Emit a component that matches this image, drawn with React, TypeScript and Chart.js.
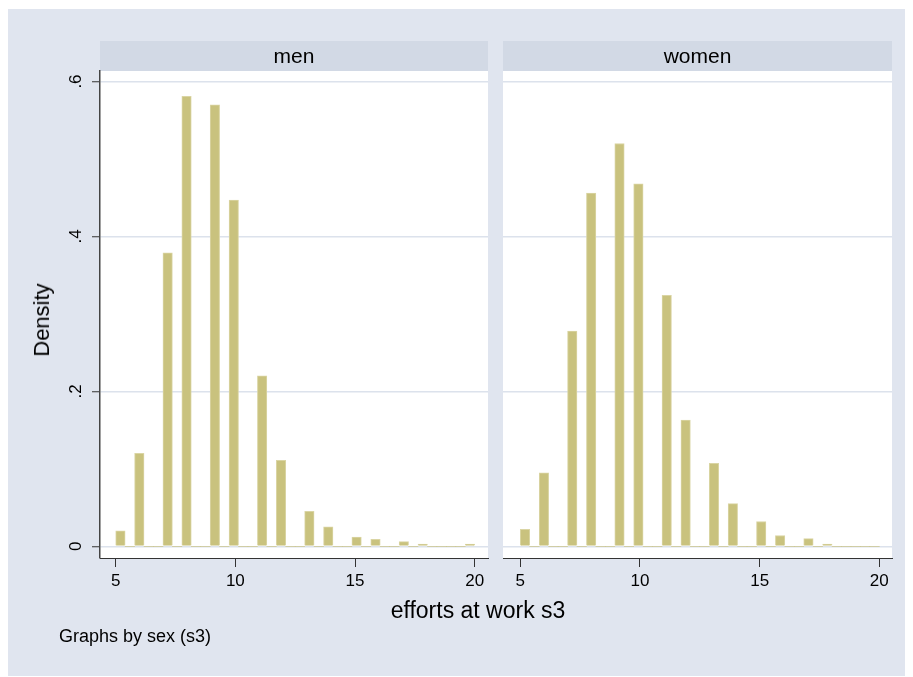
import React, { useEffect, useRef } from 'react';
import { Chart, registerables } from 'chart.js';

Chart.register(...registerables);

// ---- data ----
const effortValues = [5, 6, 7, 8, 9, 10, 11, 12, 13, 14, 15, 16, 17, 18, 19, 20];
const menDensity = [0.020, 0.120, 0.379, 0.581, 0.570, 0.447, 0.220, 0.111, 0.045, 0.025, 0.012, 0.009, 0.006, 0.003, 0, 0.003];
const womenDensity = [0.022, 0.095, 0.278, 0.456, 0.520, 0.468, 0.324, 0.163, 0.107, 0.055, 0.032, 0.014, 0.010, 0.003, 0, 0];
const panelLabels = ['men', 'women'];
const xTicks = [5, 10, 15, 20];
const yTicks = [0, 0.2, 0.4, 0.6];
const yTickLabels = ['0', '.2', '.4', '.6'];
const xTitle = 'efforts at work s3';
const yTitle = 'Density';
const noteText = 'Graphs by sex (s3)';

// histogram binning (Stata default: 38 bins from 5 to 20)
const binStart = 5;
const binEnd = 20;
const binCount = 38;

const FONT = '"Liberation Sans", Arial, Helvetica, sans-serif';
const BG = '#E0E5EF';
const STRIP = '#D2D9E5';
const GRID = '#DCE2EC';
const BAR_FILL = '#C9C27E';
const BAR_EDGE = '#DAD5A4';
const AXIS = '#333333';

function binData(values: number[], dens: number[]) {
  const w = (binEnd - binStart) / binCount;
  const bins = [] as { x: number; y: number }[];
  for (let k = 0; k < binCount; k++) bins.push({ x: binStart + (k + 0.5) * w, y: 0 });
  values.forEach((v, i) => {
    const k = Math.min(binCount - 1, Math.floor((v - binStart) / w + 1e-9));
    bins[k].y = dens[i];
  });
  return bins;
}

const panelPlugin = {
  id: 'panel',
  beforeDraw(chart: any, _args: any, opts: any) {
    const { ctx, chartArea } = chart;
    const { left, right, top, bottom } = chartArea;
    ctx.save();
    ctx.fillStyle = '#FFFFFF';
    ctx.fillRect(left, top, right - left, bottom - top);
    const h = opts.stripHeight || 30;
    ctx.fillStyle = STRIP;
    ctx.fillRect(left, top - h, right - left, h);
    ctx.fillStyle = '#000000';
    ctx.font = `21px ${FONT}`;
    ctx.textAlign = 'center';
    ctx.textBaseline = 'middle';
    ctx.fillText(opts.label, (left + right) / 2, top - h / 2 + 1);
    ctx.restore();
  },
};

function makeChart(canvas: HTMLCanvasElement, dens: number[], label: string, first: boolean, xMin: number, xMax: number, padRight: number) {
  return new Chart(canvas, {
    type: 'bar',
    data: {
      datasets: [
        {
          data: binData(effortValues, dens),
          backgroundColor: BAR_FILL,
          borderColor: BAR_EDGE,
          borderWidth: (c: any) => (c.raw && c.raw.y > 0 ? 1 : 0),
          borderSkipped: 'start',
          barPercentage: 1,
          categoryPercentage: 1,
        } as any,
      ],
    },
    plugins: [panelPlugin as any],
    options: {
      animation: false,
      responsive: false,
      maintainAspectRatio: false,
      layout: { padding: { top: 62, right: padRight, bottom: 0, left: 0 } },
      plugins: {
        legend: { display: false },
        tooltip: { enabled: false },
        panel: { label, stripHeight: 30 },
      } as any,
      scales: {
        x: {
          type: 'linear',
          min: xMin,
          max: xMax,
          offset: false,
          bounds: 'data',
          afterBuildTicks: (s: any) => {
            s.ticks = xTicks.map((v) => ({ value: v }));
          },
          afterFit: (s: any) => {
            s.height = 119;
          },
          grid: { display: true, offset: false, drawOnChartArea: false, drawTicks: true, tickLength: 9, tickColor: AXIS, tickWidth: 1 },
          border: { display: true, color: AXIS, width: 1 },
          ticks: { padding: 4, color: '#000', font: { family: FONT, size: 17 }, autoSkip: false, maxRotation: 0, minRotation: 0 },
        },
        y: {
          type: 'linear',
          min: -0.0151,
          max: 0.6136,
          bounds: 'data',
          afterBuildTicks: (s: any) => {
            s.ticks = yTicks.map((v) => ({ value: v }));
          },
          afterFit: (s: any) => {
            s.width = first ? 92 : 0;
          },
          grid: { color: GRID, lineWidth: 1.5, drawTicks: first, tickLength: 8, tickColor: AXIS, tickWidth: 1 },
          border: { display: first, color: '#444444', width: 1.5 },
          ticks: {
            display: first,
            callback: (v: any) => yTickLabels[yTicks.indexOf(v)],
            minRotation: 90,
            maxRotation: 90,
            crossAlign: 'center',
            padding: 9,
            color: '#000',
            font: { family: FONT, size: 17 },
          },
        },
      },
    } as any,
  });
}

export default function App() {
  const ref1 = useRef<HTMLCanvasElement>(null);
  const ref2 = useRef<HTMLCanvasElement>(null);

  useEffect(() => {
    const c1 = makeChart(ref1.current!, menDensity, panelLabels[0], true, 4.344, 20.556, 15);
    const c2 = makeChart(ref2.current!, womenDensity, panelLabels[1], false, 4.277, 20.53, 21);
    return () => {
      c1.destroy();
      c2.destroy();
    };
  }, []);

  const textBase: React.CSSProperties = { position: 'absolute', fontFamily: FONT, color: '#000', whiteSpace: 'nowrap', lineHeight: 1 };

  return (
    <div style={{ position: 'relative', top: 1, width: 905, height: 668, background: BG, overflow: 'hidden' }}>
      <canvas ref={ref1} width={495} height={668} style={{ position: 'absolute', left: 0, top: 0, width: 495, height: 668 }} />
      <canvas ref={ref2} width={410} height={668} style={{ position: 'absolute', left: 495, top: 0, width: 410, height: 668 }} />
      <div style={{ ...textBase, fontSize: 22, left: 34, top: 311, transform: 'translate(-50%, -50%) rotate(-90deg)' }}>{yTitle}</div>
      <div style={{ ...textBase, fontSize: 23, left: 470, top: 601, transform: 'translate(-50%, -50%)' }}>{xTitle}</div>
      <div style={{ ...textBase, fontSize: 18, left: 51, top: 627, transform: 'translateY(-50%)' }}>{noteText}</div>
    </div>
  );
}
